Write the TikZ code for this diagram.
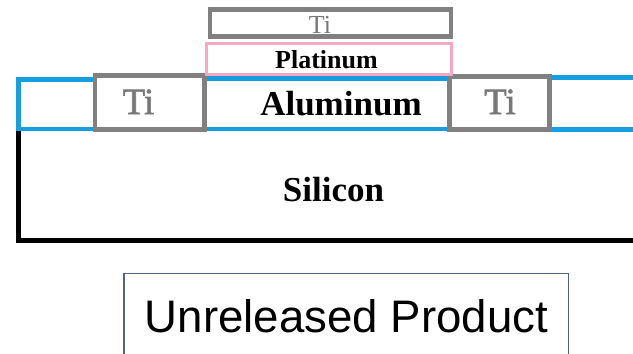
\documentclass[tikz,border=0pt]{standalone}
\usepackage{fontspec}
\setmainfont{Liberation Serif}
\newfontfamily\arialfont{Liberation Sans}
\newfontfamily\heavyserif[FakeBold=1.6]{Liberation Serif}
\definecolor{tigray}{RGB}{128,128,128}
\definecolor{titext}{RGB}{120,120,120}
\definecolor{alblue}{RGB}{22,158,224}
\definecolor{ptpink}{RGB}{244,168,196}
\definecolor{boxslate}{RGB}{86,101,127}
\begin{document}
\begin{tikzpicture}[x=1pt,y=-1pt,
  blueline/.style={draw=alblue,line width=4.5pt},
  tibox/.style={draw=tigray,line width=4.5pt},
  lbl/.style={anchor=base,inner sep=0pt},
  ]
\useasboundingbox (0,0) rectangle (633,354);
\clip (0,0) rectangle (633,354);
% aluminum layer blue lines
\draw[blueline] (95,79.5) -- (18.5,79.5) -- (18.5,129) -- (95,129);
\draw[blueline] (204.5,78.5) -- (449.5,78.5);
\draw[blueline] (204.5,129) -- (449.5,129);
\draw[blueline] (549.5,77.5) -- (640,77.5);
\draw[blueline] (549.5,129.5) -- (640,129.5);
% silicon
\draw[line width=5pt,black] (18.5,131) -- (18.5,240) -- (640,240);
% Ti side boxes
\draw[tibox] (95,75.5) rectangle (204.5,129.5);
\draw[tibox] (449.5,76.5) rectangle (549.5,129.5);
% platinum
\draw[draw=ptpink,line width=3pt] (206.5,43) rectangle (451.5,74);
% top Ti
\draw[tibox] (210,9.5) rectangle (451,36.5);
% labels
\node[lbl,text=titext,font=\fontsize{26}{30}\selectfont] (tTop) at (320,33) {Ti};
\node[lbl,font=\bfseries\fontsize{26}{30}\selectfont] (tPt) at (326.5,68) {Platinum};
\node[lbl,font=\bfseries\fontsize{35}{40}\selectfont] (tAl) at (341,115) {Aluminum};
\node[lbl,text=titext,font=\heavyserif\fontsize{37}{42}\selectfont] (tTiL) at (138.5,114) {Ti};
\node[lbl,text=titext,font=\heavyserif\fontsize{37}{42}\selectfont] (tTiR) at (500,114) {Ti};
\node[lbl,font=\bfseries\fontsize{35}{40}\selectfont] (tSi) at (333.5,201) {Silicon};
% unreleased product box
\draw[draw=boxslate,line width=1.5pt] (124,273.5) rectangle (568.5,400);
\node[lbl,font=\arialfont\fontsize{45.6}{50}\selectfont] (tUP) at (346.5,332) {Unreleased Product};
\end{tikzpicture}
\end{document}
